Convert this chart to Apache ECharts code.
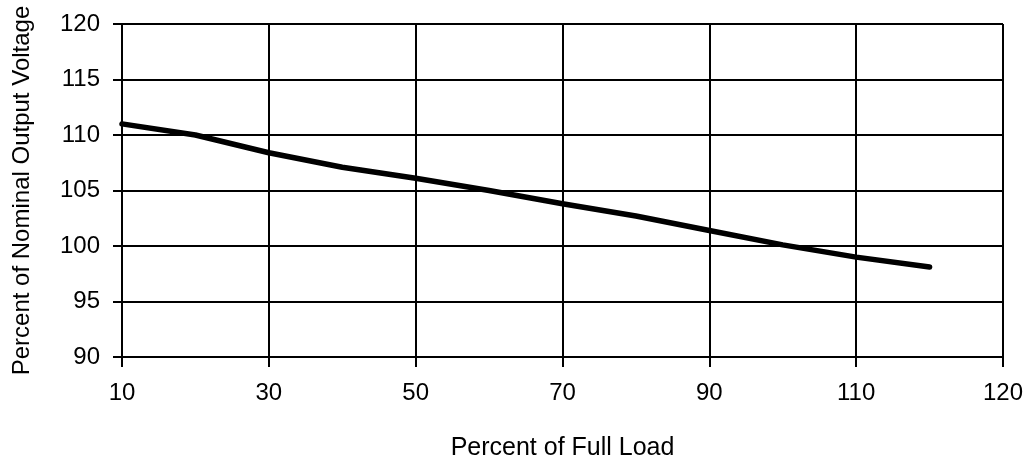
<!DOCTYPE html>
<html>
<head>
<meta charset="utf-8">
<script src="https://cdn.jsdelivr.net/npm/echarts@6/dist/echarts.min.js"></script>
<style>
html, body { margin: 0; padding: 0; background: #fff; }
#chart { width: 1032px; height: 464px; }
</style>
</head>
<body>
<div id="chart"></div>
<script>
// load in percent of full load
const loadPct = [10, 20, 30, 40, 50, 60, 70, 80, 90, 100, 110, 120]
// output voltage in percent of nominal
const voltagePct = [111.0, 110.0, 108.4, 107.1, 106.1, 105.0, 103.8, 102.7, 101.4, 100.1, 99.0, 98.1]
// the x axis in the original is labelled 10..110 then "120" at the last tick
const xTicks = [10, 30, 50, 70, 90, 110, 130]
const xTickLabels = ['10', '30', '50', '70', '90', '110', '120']

const myChart = echarts.init(document.getElementById('chart'))
const font = 'Liberation Sans, Arial, sans-serif'

myChart.setOption({
  animation: false,
  grid: {
    left: 122,
    right: 29,
    top: 24,
    bottom: 107,
    outerBoundsMode: 'none'
  },
  xAxis: {
    type: 'value',
    min: 10,
    max: 130,
    interval: 20,
    name: 'Percent of Full Load',
    nameLocation: 'middle',
    nameGap: 79,
    nameMoveOverlap: false,
    nameTextStyle: { fontFamily: font, fontSize: 25, color: '#000' },
    axisLine: { lineStyle: { color: '#000', width: 2 } },
    axisTick: { show: true, length: 10, lineStyle: { color: '#000', width: 2 } },
    axisLabel: {
      margin: 24,
      fontFamily: font,
      fontSize: 24,
      color: '#000',
      formatter: function (v) {
        const i = xTicks.indexOf(v)
        return i >= 0 ? xTickLabels[i] : ''
      }
    },
    splitLine: { show: true, lineStyle: { color: '#000', width: 2 } }
  },
  yAxis: {
    type: 'value',
    min: 90,
    max: 120,
    interval: 5,
    name: 'Percent of Nominal Output Voltage',
    nameLocation: 'middle',
    nameGap: 88,
    nameMoveOverlap: false,
    nameTextStyle: { fontFamily: font, fontSize: 24, color: '#000' },
    axisLine: { show: true, lineStyle: { color: '#000', width: 2 } },
    axisTick: { show: true, length: 9, lineStyle: { color: '#000', width: 2 } },
    axisLabel: { margin: 22, fontFamily: font, fontSize: 24, color: '#000' },
    splitLine: { show: true, lineStyle: { color: '#000', width: 2 } }
  },
  series: [
    {
      type: 'line',
      data: loadPct.map((x, i) => [x, voltagePct[i]]),
      showSymbol: false,
      smooth: false,
      lineStyle: { color: '#000', width: 5.5, cap: 'round' }
    }
  ]
})
</script>
</body>
</html>
